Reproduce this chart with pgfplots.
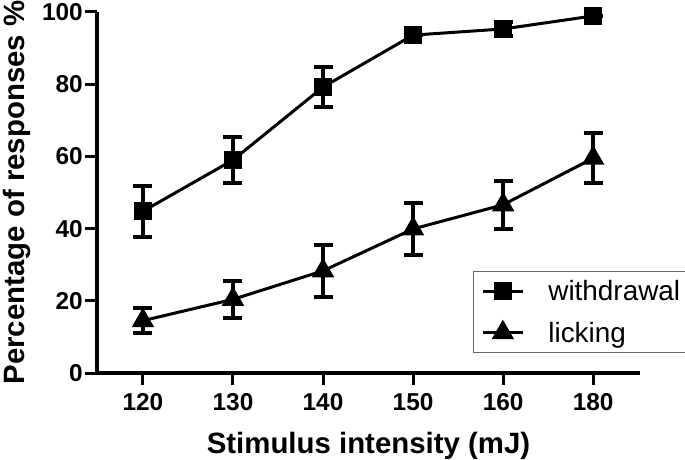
\documentclass[border=0pt]{standalone}
\usepackage{pgfplots}
\pgfplotsset{compat=1.18}
\usepackage{fontspec}
\setmainfont{Liberation Sans}
\begin{document}
\begin{tikzpicture}
\begin{axis}[
  at={(0,0)}, anchor=south west,
  scale only axis, width=543bp, height=361bp,
  xmin=-0.51, xmax=5.52, ymin=0, ymax=100,
  axis lines=left, axis line style={-, line width=3.5bp},
  tick align=outside, major tick length=12bp,
  every tick/.style={line width=3bp, black},
  xtick={0,1,2,3,4,5}, xticklabels={120,130,140,150,160,180},
  ytick={0,20,40,60,80,100},
  /pgf/number format/assume math mode=true,
  ticklabel style={font=\fontsize{24.5}{24.5}\selectfont\bfseries},
  xticklabel style={anchor=north, inner sep=0pt, yshift=-8bp},
  yticklabel style={anchor=east, inner sep=0pt, xshift=-2bp},
  xlabel={Stimulus intensity (mJ)},
  ylabel={Percentage of responses \%},
  label style={font=\fontsize{29.5}{29.5}\selectfont\bfseries},
  xlabel style={at={(axis description cs:0.5,-0.2216)}, anchor=base},
  ylabel style={at={(axis description cs:-0.1344,0.5)}, anchor=base},
  clip=false,
  legend style={at={(axis description cs:0.6924,0.0554)}, anchor=south west,
    draw=black!60, line width=0.8bp, font=\fontsize{28}{28}\selectfont,
    nodes={inner sep=0pt},
    inner xsep=8bp, inner ysep=9bp, row sep=20bp, column sep=24bp},
  legend cell align=left,
  legend image code/.code={\draw[mark repeat=2,mark phase=2,#1] plot coordinates {(0bp,0bp)(20bp,0bp)(40bp,0bp)};},
]
\addplot[black, line width=3bp, mark=square*, mark size=7.5bp,
  error bars/.cd, y dir=both, y explicit,
  error bar style={line width=4bp},
  error mark options={rotate=90, mark size=9.5bp, line width=4bp}]
  table[x=x, y=y, y error=e] {
x y e
0 44.8 7.0
1 59.0 6.4
2 79.2 5.5
3 93.6 0.0
4 95.3 1.9
5 98.9 0.0
};
\addlegendentry{withdrawal}
\addplot[black, line width=3bp, mark=triangle*, mark size=10bp,
  error bars/.cd, y dir=both, y explicit,
  error bar style={line width=4bp},
  error mark options={rotate=90, mark size=9.5bp, line width=4bp}]
  table[x=x, y=y, y error=e] {
x y e
0 14.5 3.5
1 20.4 5.1
2 28.3 7.2
3 39.9 7.2
4 46.6 6.7
5 59.5 7.0
};
\addlegendentry{licking}
\end{axis}
\pgfresetboundingbox
\useasboundingbox (-97bp,-87bp) rectangle (588bp,373bp);
\end{tikzpicture}
\end{document}
